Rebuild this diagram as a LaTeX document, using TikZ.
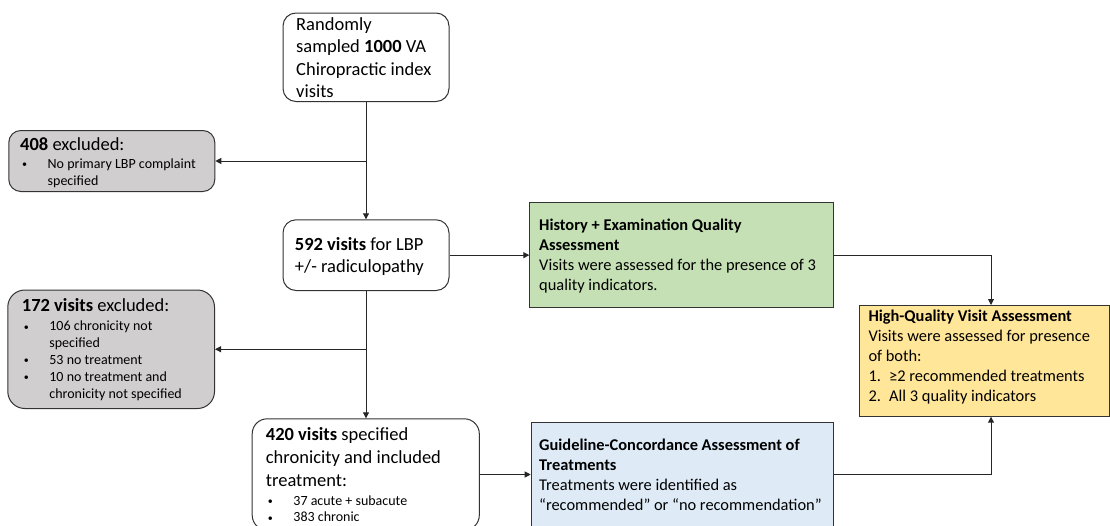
\documentclass[tikz,border=0pt]{standalone}
\usepackage{fontspec}
\setmainfont{Carlito}
\usetikzlibrary{arrows.meta}
\definecolor{boxgray}{HTML}{D0CECE}
\definecolor{boxgreen}{HTML}{C5E0B4}
\definecolor{boxyellow}{HTML}{FFE699}
\definecolor{boxblue}{HTML}{DEEBF7}
\newcommand\bigtxt{\fontsize{18.5}{22.5}\selectfont}
\newcommand\smalltxt{\fontsize{14}{16.9}\selectfont}
\newcommand\midtxt{\fontsize{16.4}{20}\selectfont}
\newcommand\bitem{\hspace*{2pt}\makebox[25.5pt][l]{\raisebox{0.6pt}{\fontsize{10}{10}\selectfont •}}}
\newcommand\bcont{\hspace*{27.5pt}}
\newcommand\numitem[1]{\makebox[20.7pt][l]{#1}}
\begin{document}
\begin{tikzpicture}[x=1pt,y=-1pt,
  box/.style={draw=black!80, line width=1pt, anchor=north west, inner sep=0pt},
  rbox/.style={box, rounded corners=13pt},
  txt/.style={anchor=base west, inner sep=0pt},
  arr/.style={draw=black!85, line width=1pt, -{Triangle[length=6pt,width=6pt]}}]
\useasboundingbox (0,0) rectangle (1110,525);
\clip (0,0) rectangle (1110,525);
% boxes
\node[rbox, minimum width=166pt, minimum height=88.5pt] (top) at (282.5,12.5) {};
\node[rbox, fill=boxgray, rounded corners=12pt, minimum width=206pt, minimum height=61pt] (ex408) at (8.3,130) {};
\node[rbox, minimum width=166pt, minimum height=70.7pt] (n592) at (282.5,219.3) {};
\node[rbox, fill=boxgray, rounded corners=17pt, minimum width=206.7pt, minimum height=118.5pt] (ex172) at (7.3,289.5) {};
\node[rbox, rounded corners=15pt, minimum width=227.1pt, minimum height=111.4pt] (n420) at (251.7,418.3) {};
\node[box, fill=boxgreen, minimum width=303.4pt, minimum height=105pt] (green) at (529.3,202.3) {};
\node[box, fill=boxblue, minimum width=302.6pt, minimum height=104.8pt] (blue) at (530.7,421.7) {};
\node[box, fill=boxyellow, minimum width=249.2pt, minimum height=110.7pt] (yellow) at (859.3,305) {};
% texts
\node[txt] (topt) at (296,30) {\parbox[t]{200pt}{\bigtxt Randomly\\sampled \textbf{1000} VA\\Chiropractic index\\visits}};
\node[txt] (ex408t) at (20,150) {\parbox[t]{250pt}{{\bigtxt\textbf{408} excluded:\par}\vspace{1.4pt}{\smalltxt\bitem No primary LBP complaint\\\bcont specified\par}}};
\node[txt] (n592t) at (294.7,250) {\parbox[t]{200pt}{\fontsize{18.5}{22.8}\selectfont\textbf{592 visits} for LBP\\+/- radiculopathy}};
\node[txt] (ex172t) at (21.7,311.7) {\parbox[t]{250pt}{{\bigtxt\textbf{172 visits} excluded:\par}\vspace{2pt}{\smalltxt\bitem 106 chronicity not\\\bcont specified\\\bitem 53 no treatment\\\bitem 10 no treatment and\\\bcont chronicity not specified\par}}};
\node[txt] (n420t) at (265.7,440.7) {\parbox[t]{250pt}{{\fontsize{18.5}{22.7}\selectfont\textbf{420 visits} specified\\chronicity and included\\treatment:\par}\vspace{2pt}{\smalltxt\bitem 37 acute + subacute\\\bitem 383 chronic\par}}};
\node[txt] (greent) at (539,230.7) {\parbox[t]{320pt}{\midtxt\textbf{History + Examination Quality}\\\textbf{Assessment}\\Visits were assessed for the presence of 3\\quality indicators.}};
\node[txt] (bluet) at (539,450.5) {\parbox[t]{320pt}{\midtxt\textbf{Guideline-Concordance Assessment of}\\\textbf{Treatments}\\Treatments were identified as\\“recommended” or “no recommendation”}};
\node[txt] (yellowt) at (868.3,321.7) {\parbox[t]{300pt}{\midtxt\textbf{High-Quality Visit Assessment}\\Visits were assessed for presence\\of both:\\\numitem{1.}≥2 recommended treatments\\\numitem{2.}All 3 quality indicators}};
% connectors
\coordinate (jx) at (991,0);
\draw[arr] (top.south) -- (n592.north);
\draw[arr] (top.south |- ex408.east) -- (ex408.east);
\draw[arr] (n592.south) -- (n592.south |- n420.north);
\draw[arr] (n592.south |- ex172.east) -- (ex172.east);
\draw[arr] (n592.east) -- (n592.east -| green.west);
\draw[arr] (n420.east) -- (n420.east -| blue.west);
\draw[arr] (green.east) -| (jx |- yellow.north);
\draw[arr] (blue.east) -| (jx |- yellow.south);
\end{tikzpicture}
\end{document}
